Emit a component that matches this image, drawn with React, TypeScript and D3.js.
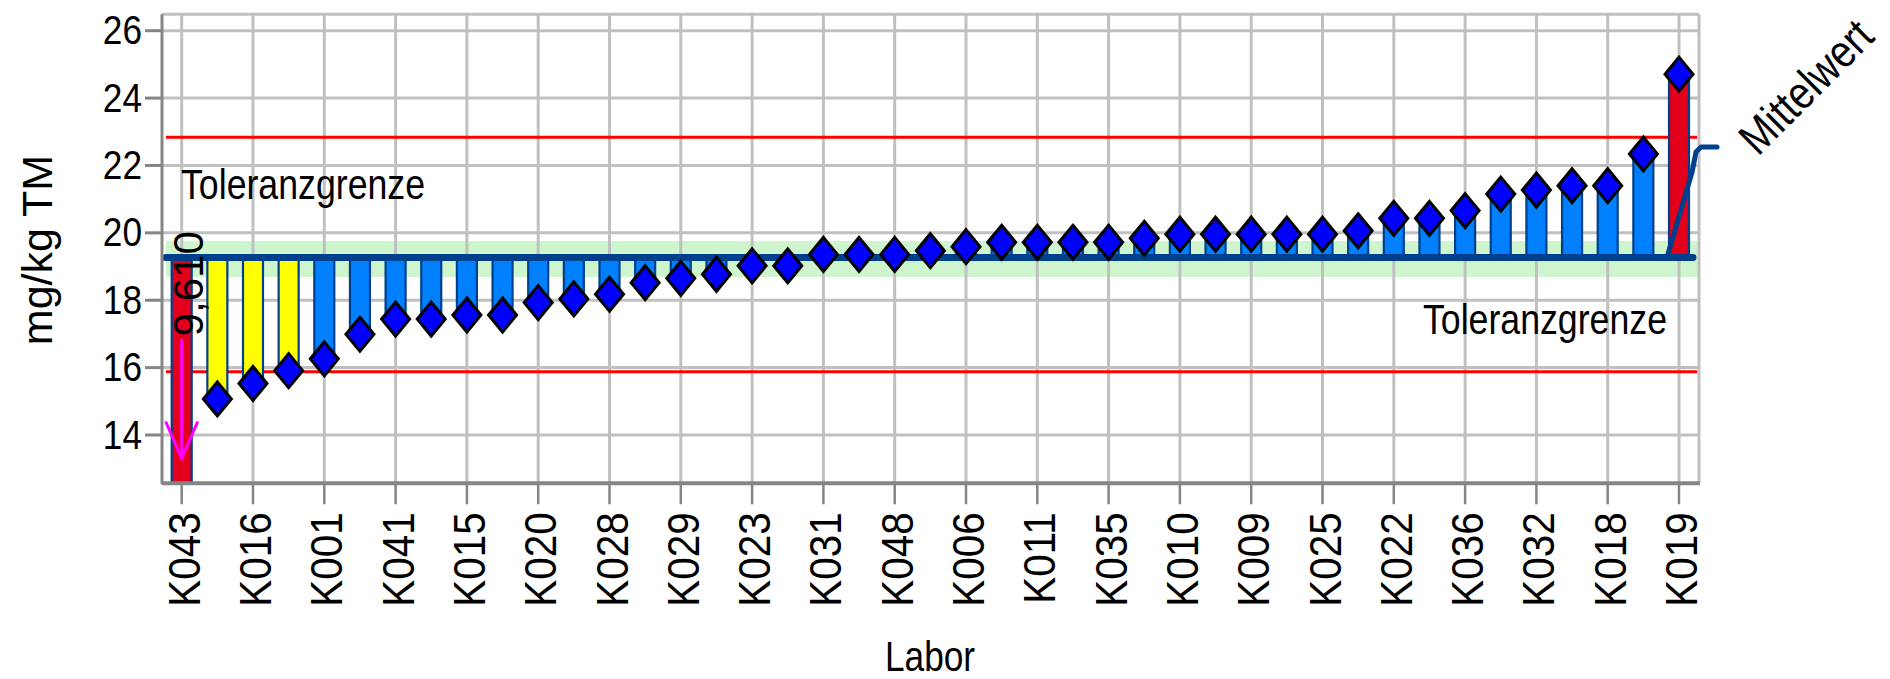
import React from 'react';
import * as d3 from 'd3';

const W = 1890;
const H = 679;

// every second laboratory is labelled on the axis
const tickLabels = ['K043','K016','K001','K041','K015','K020','K028','K029','K023','K031','K048','K006','K011','K035','K010','K009','K025','K022','K036','K032','K018','K019'];
const values = [9.61, 15.07, 15.53, 15.91, 16.26, 16.99, 17.44, 17.44, 17.56, 17.56, 17.93, 18.04, 18.18, 18.52, 18.65, 18.77, 19.02, 19.02, 19.36, 19.36, 19.36, 19.47, 19.59, 19.72, 19.72, 19.72, 19.72, 19.84, 19.96, 19.96, 19.96, 19.96, 19.96, 20.06, 20.43, 20.43, 20.66, 21.15, 21.27, 21.40, 21.40, 22.34, 24.71];
const redIdx = [0, 42];
const yellowIdx = [1, 2, 3];
const yTicks = [14, 16, 18, 20, 22, 24, 26];
const meanValue = 19.27;
const bandRange = [18.69, 19.76];
const tolUpper = 22.84;
const tolLower = 15.88;
const outlierLabel = '9,610';

const FONT = "'Liberation Sans', Arial, sans-serif";
const NARROW = 0.85;

export default function App() {
  const left = 162, right = 1699, top = 14.3, bottom = 483.3;
  const y = d3.scaleLinear().domain([12.566, 26.487]).range([bottom, top]);
  const idx = d3.range(values.length);
  const x = d3.scalePoint<number>().domain(idx).range([181.7, 1679]);
  const xs = (i: number) => x(i) as number;
  const barW = 22;
  const grid = '#c0c0c0';
  const axis = '#858585';
  const dark = '#003f8c';

  const barColor = (i: number) =>
    redIdx.includes(i) ? '#e2001a' : yellowIdx.includes(i) ? '#ffff00' : '#0080ff';

  const last = values.length - 1;
  const xl = xs(last);
  const leader = d3.line()([
    [xl - 12, y(meanValue)],
    [xl + 13, y(21.8)],
    [xl + 17, y(22.4)],
    [xl + 22, y(22.55)],
    [xl + 38, y(22.55)],
  ]);

  return (
    <svg width={W} height={H} style={{ position: 'absolute', left: 0, top: 0, background: '#fff' }} fontFamily={FONT}>
      <defs>
        <clipPath id="plot">
          <rect x={left} y={top} width={right - left} height={bottom - top} />
        </clipPath>
      </defs>
      <rect x={0} y={0} width={W} height={H} fill="#fff" />
      {/* tolerance band around mean */}
      <rect x={left + 4} y={y(bandRange[1])} width={right - left - 4} height={y(bandRange[0]) - y(bandRange[1])} fill="#cff5cf" />
      {/* grid */}
      {yTicks.map((t) => (
        <line key={'gy' + t} x1={left} x2={right} y1={y(t)} y2={y(t)} stroke={grid} strokeWidth={3} />
      ))}
      {idx.filter((i) => i % 2 === 0).map((i) => (
        <line key={'gx' + i} x1={xs(i)} x2={xs(i)} y1={top} y2={bottom} stroke={grid} strokeWidth={3} />
      ))}
      <line x1={left} x2={right} y1={top} y2={top} stroke={grid} strokeWidth={3} />
      <line x1={right} x2={right} y1={top} y2={bottom} stroke={grid} strokeWidth={3} />
      {/* tolerance limits */}
      <line x1={left + 4} x2={right - 2} y1={y(tolUpper)} y2={y(tolUpper)} stroke="#ff0000" strokeWidth={3} />
      <line x1={left + 4} x2={right - 2} y1={y(tolLower)} y2={y(tolLower)} stroke="#ff0000" strokeWidth={3} />
      {/* bars */}
      <g clipPath="url(#plot)">
        {values.map((v, i) => {
          const y0 = Math.min(y(v), y(meanValue));
          const y1 = Math.max(y(v), y(meanValue));
          return (
            <rect key={'b' + i} x={xs(i) - barW / 2 + 1} y={y0} width={barW - 2} height={y1 - y0}
              fill={barColor(i)} stroke={dark} strokeWidth={2.2} />
          );
        })}
      </g>
      {/* mean line */}
      <line x1={xs(0) - 16} x2={xl + 14} y1={y(meanValue)} y2={y(meanValue)} stroke={dark} strokeWidth={7} strokeLinecap="round" />
      <path d={leader || ''} fill="none" stroke={dark} strokeWidth={5} strokeLinecap="round" strokeLinejoin="round" />
      {/* outlier arrow */}
      <g stroke="#ff00ff" strokeWidth={3} fill="none">
        <line x1={xs(0)} x2={xs(0)} y1={y(16.85)} y2={y(13.3)} />
        <polyline points={`${xs(0) - 16},${y(14.4)} ${xs(0)},${y(13.3)} ${xs(0) + 16},${y(14.4)}`} />
      </g>
      <text transform={`translate(${xs(0) + 21},${y(16.93)}) rotate(-90)`} fontSize={42} fill="#000">{outlierLabel}</text>
      {/* diamonds */}
      {values.map((v, i) => {
        if (y(v) > bottom) return null;
        const cx = xs(i), cy = y(v);
        return (
          <path key={'d' + i} d={`M${cx},${cy - 17}L${cx + 14},${cy}L${cx},${cy + 17}L${cx - 14},${cy}Z`}
            fill="#0000ff" stroke="#000" strokeWidth={3} strokeLinejoin="miter" />
        );
      })}
      {/* axes */}
      <line x1={left} x2={left} y1={top} y2={bottom + 1} stroke={axis} strokeWidth={3} />
      <line x1={left} x2={right + 1} y1={bottom} y2={bottom} stroke={axis} strokeWidth={4} />
      {yTicks.map((t) => (
        <g key={'yt' + t}>
          <line x1={left - 17} x2={left} y1={y(t)} y2={y(t)} stroke={axis} strokeWidth={3} />
          <text transform={`translate(${left - 20},${y(t)}) scale(0.88,1)`} dy="0.34em" textAnchor="end" fontSize={40} fill="#000">{t}</text>
        </g>
      ))}
      {tickLabels.map((lab, k) => {
        const cx = xs(k * 2);
        return (
          <g key={'xt' + lab}>
            <line x1={cx} x2={cx} y1={bottom} y2={bottom + 21} stroke={axis} strokeWidth={2.5} />
            <text transform={`translate(${cx + 18},${bottom + 29}) rotate(-90) scale(0.92,1)`} textAnchor="end" fontSize={44} fill="#000">{lab}</text>
          </g>
        );
      })}
      {/* titles */}
      <text transform={`translate(52,250) rotate(-90)`} textAnchor="middle" fontSize={43} fill="#000">mg/kg TM</text>
      <text transform={`translate(930,671) scale(0.82,1)`} textAnchor="middle" fontSize={43} fill="#000">Labor</text>
      <text transform={`translate(181,199) scale(${NARROW},1)`} fontSize={42} fill="#000">Toleranzgrenze</text>
      <text transform={`translate(1667,334) scale(${NARROW},1)`} textAnchor="end" fontSize={42} fill="#000">Toleranzgrenze</text>
      <text transform={`translate(1758,157) rotate(-45) scale(${NARROW},1)`} fontSize={46} fill="#000">Mittelwert</text>
    </svg>
  );
}
